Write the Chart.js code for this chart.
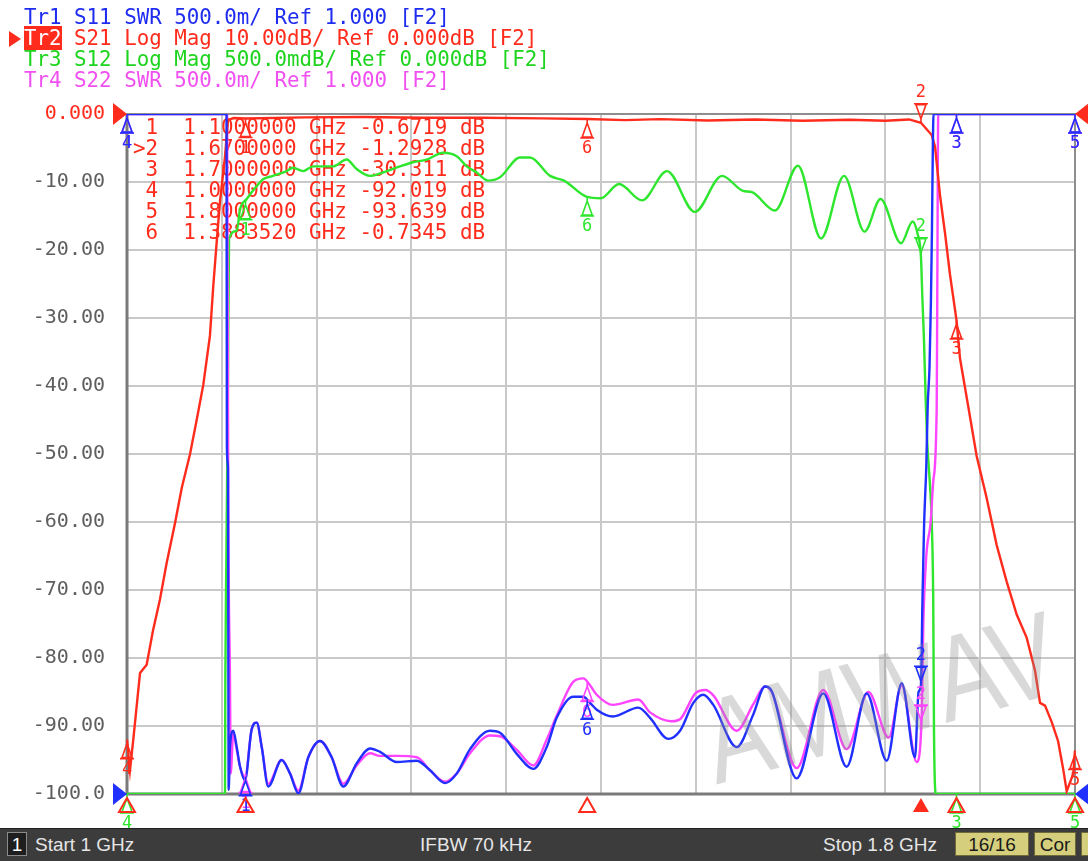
<!DOCTYPE html>
<html>
<head>
<meta charset="utf-8">
<script src="https://cdn.jsdelivr.net/npm/chart.js@4.4.1/dist/chart.umd.min.js"></script>
<style>
  html, body { margin: 0; padding: 0; background: #fff; }
  body { width: 1088px; height: 861px; position: relative; overflow: hidden; }
  #chartBox { position: absolute; left: 0; top: 0; width: 1088px; height: 828px; }
  .hdr { position: absolute; left: 24px; font-family: "DejaVu Sans Mono", monospace; font-size: 20.8px; line-height: 21px; white-space: pre; }
  .tr2 { background: #ff2b1c; color: #fff; }
  #tri { position: absolute; left: 9px; top: 31px; width: 0; height: 0; border-top: 8px solid transparent; border-bottom: 8px solid transparent; border-left: 12px solid #ff2b1c; }
  #status { position: absolute; left: 0; top: 828px; width: 1088px; height: 33px; background: #3c3c3c; border-top: 1px solid #222; box-sizing: border-box;
            font-family: "Liberation Sans", Arial, sans-serif; font-size: 19px; color: #e6e6e6; }
  #status span { position: absolute; top: 5px; line-height: 22px; white-space: nowrap; }
  #status .box { position: absolute; top: 3px; height: 24px; line-height: 24px; text-align: center; box-sizing: border-box; }
  .num { left: 7px; width: 20px; background: #1e1e1e; border: 1px solid #8a8a8a; color: #fff; }
  .khaki { background: #d5cf7d; color: #1a1a1a; border: 1px solid #6e6a3a; }
</style>
</head>
<body>
<div id="chartBox"><canvas id="vnaChart" width="1088" height="828"></canvas></div>

<div class="hdr" style="top:7px;color:#1e2cf0">Tr1 S11 SWR 500.0m/ Ref 1.000 [F2]</div>
<div id="tri"></div>
<div class="hdr" style="top:28px;color:#ff2b1c"><span class="tr2">Tr2</span> S21 Log Mag 10.00dB/ Ref 0.000dB [F2]</div>
<div class="hdr" style="top:49px;color:#1ed41e">Tr3 S12 Log Mag 500.0mdB/ Ref 0.000dB [F2]</div>
<div class="hdr" style="top:70px;color:#f050f0">Tr4 S22 SWR 500.0m/ Ref 1.000 [F2]</div>

<div id="status">
  <div class="box num">1</div>
  <span style="left:35px">Start 1 GHz</span>
  <span style="left:420px">IFBW 70 kHz</span>
  <span style="left:823px">Stop 1.8 GHz</span>
  <div class="box khaki" style="left:955px;width:74px">16/16</div>
  <div class="box khaki" style="left:1034px;width:42px">Cor</div>
  <div class="box khaki" style="left:1081px;width:14px"></div>
</div>

<script>
// grid / ticks
const gridFreqs = [1.00, 1.08, 1.16, 1.24, 1.32, 1.40, 1.48, 1.56, 1.64, 1.72, 1.80];
const dbTicks = [0, -10, -20, -30, -40, -50, -60, -70, -80, -90, -100];

// markers (GHz) and the readings in the marker table (dB, Tr2)
const markerFreqs = [1.1, 1.67, 1.7, 1.0, 1.8, 1.388352];
const markerReadings = [-0.6719, -1.2928, -30.311, -92.019, -93.639, -0.7345];
const activeMarker = 2;

// Tr2 S21 (dB)
const s21Freq = [1.0000, 1.0025, 1.0053, 1.0082, 1.0110, 1.0166, 1.0219, 1.0278, 1.0335, 1.0405, 1.0462, 1.0532,
  1.0588, 1.0644, 1.0700, 1.0728, 1.0757, 1.0785, 1.0827, 1.0852, 1.0900, 1.1000, 1.1500, 1.2000, 1.2500, 1.3000,
  1.3500, 1.3884, 1.4200, 1.4500, 1.4900, 1.5300, 1.5700, 1.6100, 1.6400, 1.6600, 1.6700, 1.6791, 1.6819, 1.6861,
  1.6903, 1.6945, 1.7000, 1.7030, 1.7097, 1.7170, 1.7255, 1.7339, 1.7424, 1.7508, 1.7592, 1.7662, 1.7705, 1.7747,
  1.7803, 1.7857, 1.7899, 1.7930, 1.7986, 1.8000];
const s21Val = [-92.0, -96.5, -92.0, -87.0, -82.2, -81.0, -76.0, -71.4, -66.0, -60.2, -55.0, -50.0,
  -45.0, -39.8, -32.6, -25.3, -18.8, -12.8, -6.3, -0.9, -0.6, -0.67, -0.5, -0.45, -0.55, -0.55,
  -0.65, -0.73, -0.9, -0.75, -0.95, -0.8, -1.0, -0.85, -1.0, -0.8, -1.29, -3.1, -4.8, -12.0,
  -17.5, -23.6, -30.3, -36.0, -42.8, -50.3, -56.5, -63.4, -68.8, -73.6, -77.0, -81.8, -86.6, -87.0,
  -89.4, -92.2, -96.2, -99.6, -97.0, -93.6];

// Tr1 S11 (as drawn on the grid)
const s11Freq = [1.0000, 1.0840, 1.0843, 1.0852, 1.0858, 1.0869, 1.0897, 1.0926, 1.0954, 1.0996, 1.1052, 1.1095,
  1.1137, 1.1192, 1.1305, 1.1376, 1.1446, 1.1530, 1.1629, 1.1727, 1.1825, 1.1938, 1.2051, 1.2135, 1.2276, 1.2445,
  1.2557, 1.2684, 1.2782, 1.2895, 1.3063, 1.3148, 1.3289, 1.3429, 1.3542, 1.3626, 1.3766, 1.3851, 1.3907, 1.3964,
  1.4101, 1.4315, 1.4414, 1.4568, 1.4667, 1.4779, 1.4863, 1.4948, 1.5145, 1.5285, 1.5384, 1.5441, 1.5651, 1.5876,
  1.6073, 1.6242, 1.6411, 1.6538, 1.6650, 1.6680, 1.6700, 1.6712, 1.6726, 1.6745, 1.6757, 1.6772, 1.6784, 1.6793,
  1.6800, 1.6806, 1.8000];
const s11Val = [0, 0, -49, -52, -99.4, -93, -90.7, -93.1, -96, -98, -90.5, -89.5,
  -93.1, -98.9, -95, -97, -99.9, -94.6, -92.2, -94.6, -98.9, -95.5, -93.3, -93.8, -95.3, -95.1,
  -96.5, -98.4, -97, -93.4, -90.7, -91, -94.1, -96.3, -93.1, -88.8, -85.7, -85.7, -86.6, -87.6,
  -88.6, -87.3, -88.8, -91.9, -90.7, -86.6, -85.4, -86.9, -93.1, -88.3, -84.2, -84.9, -97.7, -85.2,
  -96, -85.2, -95.1, -83.7, -94.6, -85, -84, -72.3, -60.7, -51.8, -42.9, -37.4, -27.8, -16.9,
  -5.4, 0, 0];

// Tr4 S22 (as drawn on the grid)
const s22Freq = [1.0000, 1.0845, 1.0855, 1.0869, 1.0875, 1.0897, 1.0926, 1.0954, 1.0996, 1.1052, 1.1095, 1.1137,
  1.1192, 1.1305, 1.1376, 1.1446, 1.1530, 1.1629, 1.1727, 1.1825, 1.1938, 1.2051, 1.2135, 1.2276, 1.2445, 1.2557,
  1.2684, 1.2782, 1.2895, 1.3063, 1.3148, 1.3289, 1.3429, 1.3542, 1.3626, 1.3766, 1.3851, 1.3907, 1.3964, 1.4101,
  1.4315, 1.4414, 1.4596, 1.4667, 1.4796, 1.4880, 1.4948, 1.5145, 1.5285, 1.5384, 1.5441, 1.5651, 1.5876, 1.6073,
  1.6256, 1.6428, 1.6538, 1.6664, 1.6706, 1.6720, 1.6745, 1.6782, 1.6804, 1.6833, 1.6838, 1.6846, 1.8000];
const s22Val = [0, 0, -60, -83, -97, -91, -93.5, -96, -97.5, -90.5, -89.5, -93.1,
  -98.5, -95, -97, -99.5, -94.6, -92.2, -94.6, -98.5, -95.8, -94, -94.4, -94.4, -94.6, -96.5,
  -98.2, -97, -94, -91.4, -91.5, -93.5, -95.8, -92, -88.5, -83.5, -83, -84, -85.4, -86.9,
  -86.1, -88, -89.3, -89, -85.2, -84.7, -85.5, -90.7, -86.8, -84.2, -85, -96.2, -84.7, -93.4,
  -85, -91.7, -84, -95.3, -88.8, -75, -65, -60, -54, -43, -25.8, 0, 0];

// Tr3 S12 (as drawn on the grid)
const s12Freq = [1.0000, 1.0827, 1.0830, 1.0838, 1.0852, 1.0861, 1.0926, 1.0954, 1.1010, 1.1095, 1.1148, 1.1232,
  1.1348, 1.1401, 1.1485, 1.1570, 1.1738, 1.1854, 1.1938, 1.2051, 1.2160, 1.2304, 1.2414, 1.2529, 1.2667, 1.2782,
  1.2867, 1.2951, 1.3046, 1.3148, 1.3316, 1.3401, 1.3570, 1.3688, 1.3882, 1.3997, 1.4152, 1.4346, 1.4557, 1.4792,
  1.5021, 1.5198, 1.5274, 1.5468, 1.5662, 1.5857, 1.6051, 1.6224, 1.6359, 1.6532, 1.6630, 1.6670, 1.6700, 1.6712,
  1.6725, 1.6740, 1.6752, 1.6776, 1.6791, 1.6804, 1.6810, 1.6827, 1.8000];
const s12Val = [-100, -100, -83, -66, -40, -18.3, -17.2, -14, -12.5, -10.6, -9.6, -9.1,
  -8.4, -7.9, -8.4, -7.7, -7.7, -6.7, -8.1, -9.1, -8.6, -7.7, -7.1, -6.7, -5.7, -6.2,
  -7.7, -8.6, -9.8, -9.3, -6.4, -6.4, -9.1, -9.8, -12.2, -12.4, -10.3, -12.7, -8.4, -14.4,
  -9.1, -11.3, -11.5, -14.2, -7.6, -18.3, -9.1, -17.3, -12.5, -19, -15.8, -17.5, -21, -27,
  -33, -42, -48, -54.5, -60, -72.3, -90.7, -100, -100];

const RED = '#ff2b1c';
const BLUE = '#2030ff';
const GREEN = '#2ee62e';
const MAGENTA = '#ff44ff';

function toPoints(fs, vs) {
    return fs.map((f, i) => ({ x: f, y: vs[i] }));
}

function valueAt(fs, vs, f) {
    for (let i = 1; i < fs.length; i++) {
        if (f <= fs[i]) {
            const t = (f - fs[i - 1]) / ((fs[i] - fs[i - 1]) || 1);
            return vs[i - 1] + t * (vs[i] - vs[i - 1]);
        }
    }
    return vs[vs.length - 1];
}

function fmtDb(v) {
    return Math.abs(v) < 10 ? v.toFixed(4) : v.toFixed(3);
}

// frame + marker table, under the traces
const underlayPlugin = {
    id: 'underlay',
    beforeDatasetsDraw(chart) {
        const { ctx, chartArea: a } = chart;
        ctx.save();
        ctx.strokeStyle = '#8e8e8e';
        ctx.lineWidth = 2;
        ctx.strokeRect(a.left, a.top, a.right - a.left, a.bottom - a.top);
        ctx.strokeStyle = '#7a7a7a';
        ctx.lineWidth = 3;
        ctx.beginPath();
        ctx.moveTo(a.left, a.top);
        ctx.lineTo(a.left, a.bottom);
        ctx.lineTo(a.right, a.bottom);
        ctx.stroke();

        ctx.font = '20.9px "DejaVu Sans Mono"';
        ctx.fillStyle = RED;
        ctx.textAlign = 'left';
        ctx.textBaseline = 'middle';
        markerFreqs.forEach((f, i) => {
            const n = i + 1;
            const row = (n === activeMarker ? '>' : ' ') + n + '  ' + f.toFixed(7) + ' GHz ' + fmtDb(markerReadings[i]) + ' dB';
            ctx.fillText(row, a.left + 6, a.top + 15 + i * 21);
        });
        ctx.restore();
    }
};

// VNA style marker: short stem, narrow triangle, base bar and number
function drawMarker(ctx, x, y, num, color, active) {
    const s = active ? -1 : 1;
    ctx.strokeStyle = color;
    ctx.fillStyle = color;
    ctx.lineWidth = 1.6;
    ctx.beginPath();
    ctx.moveTo(x, y);
    ctx.lineTo(x, y + s * 4);
    ctx.lineTo(x - 5, y + s * 18);
    ctx.lineTo(x + 5, y + s * 18);
    ctx.lineTo(x, y + s * 4);
    ctx.moveTo(x - 7, y + s * 19);
    ctx.lineTo(x + 7, y + s * 19);
    ctx.stroke();
    ctx.font = '17px "DejaVu Sans Mono"';
    ctx.textAlign = 'center';
    ctx.textBaseline = 'middle';
    ctx.fillText(String(num), x, y + s * 30);
}

// watermark, trace markers, reference arrows, stimulus markers
const overlayPlugin = {
    id: 'overlay',
    afterDatasetsDraw(chart) {
        const { ctx, chartArea: a, scales } = chart;
        const xs = scales.x, ys = scales.y;
        ctx.save();

        // watermark
        ctx.save();
        ctx.translate(a.left + (a.right - a.left) * 0.797, a.top + (a.bottom - a.top) * 0.87);
        ctx.rotate(-15 * Math.PI / 180);
        ctx.font = '120px "Liberation Sans"';
        ctx.fillStyle = 'rgba(140,140,140,0.33)';
        ctx.textAlign = 'center';
        ctx.textBaseline = 'middle';
        ctx.fillText('AMWAV', 0, 0, 362);
        ctx.restore();

        // markers on every trace (drawn bottom trace first)
        const traces = [
            [s12Freq, s12Val, GREEN],
            [s22Freq, s22Val, MAGENTA],
            [s21Freq, s21Val, RED],
            [s11Freq, s11Val, BLUE]
        ];
        traces.forEach(([fs, vs, color]) => {
            markerFreqs.forEach((f, i) => {
                const x = xs.getPixelForValue(f);
                const y = ys.getPixelForValue(valueAt(fs, vs, f));
                drawMarker(ctx, x, y, i + 1, color, i + 1 === activeMarker);
            });
        });

        // stimulus markers under the grid
        markerFreqs.forEach((f, i) => {
            const x = xs.getPixelForValue(f);
            ctx.beginPath();
            ctx.moveTo(x, a.bottom + 4);
            ctx.lineTo(x - 8, a.bottom + 18);
            ctx.lineTo(x + 8, a.bottom + 18);
            ctx.closePath();
            ctx.lineWidth = 2;
            ctx.strokeStyle = RED;
            ctx.fillStyle = RED;
            if (i + 1 === activeMarker) ctx.fill(); else ctx.stroke();
        });

        // reference level arrows
        function arrow(x, y, dir, color) {
            ctx.beginPath();
            ctx.moveTo(x, y);
            ctx.lineTo(x - dir * 14, y - 11);
            ctx.lineTo(x - dir * 14, y + 11);
            ctx.closePath();
            ctx.fillStyle = color;
            ctx.fill();
        }
        arrow(a.left, ys.getPixelForValue(0), 1, RED);
        arrow(a.left, ys.getPixelForValue(-100), 1, BLUE);
        arrow(a.right, ys.getPixelForValue(0), -1, RED);
        arrow(a.right, ys.getPixelForValue(-100), -1, BLUE);

        ctx.restore();
    }
};

const ctx = document.getElementById('vnaChart').getContext('2d');
const chart = new Chart(ctx, {
    type: 'line',
    data: {
        datasets: [
            { label: 'S11', data: toPoints(s11Freq, s11Val), borderColor: BLUE, order: 0, cubicInterpolationMode: 'monotone' },
            { label: 'S21', data: toPoints(s21Freq, s21Val), borderColor: RED, order: 1 },
            { label: 'S22', data: toPoints(s22Freq, s22Val), borderColor: MAGENTA, order: 2, cubicInterpolationMode: 'monotone' },
            { label: 'S12', data: toPoints(s12Freq, s12Val), borderColor: GREEN, order: 3, cubicInterpolationMode: 'monotone' }
        ]
    },
    options: {
        responsive: false,
        animation: false,
        devicePixelRatio: 1,
        events: [],
        layout: { padding: { top: 114, right: 13, bottom: 24, left: 0 } },
        elements: {
            line: { borderWidth: 2.4, tension: 0, fill: false },
            point: { radius: 0 }
        },
        plugins: {
            legend: { display: false },
            title: { display: false },
            tooltip: { enabled: false }
        },
        scales: {
            x: {
                type: 'linear',
                min: 1.0,
                max: 1.8,
                afterBuildTicks: s => { s.ticks = gridFreqs.map(v => ({ value: v })); },
                afterFit: s => { s.height = 0; },
                ticks: { display: false },
                grid: { color: '#c9c9c9', lineWidth: 2, drawTicks: false },
                border: { display: false }
            },
            y: {
                min: -100,
                max: 0,
                afterBuildTicks: s => { s.ticks = dbTicks.map(v => ({ value: v })); },
                afterFit: s => { s.width = 127; },
                ticks: {
                    padding: 22,
                    font: { family: 'DejaVu Sans Mono', size: 20 },
                    color: c => (c.tick && c.tick.value === 0) ? RED : '#5e5e5e',
                    callback: v => v === 0 ? '0.000' : (v === -100 ? '-100.0' : v.toFixed(2))
                },
                grid: { color: '#c9c9c9', lineWidth: 2, drawTicks: false },
                border: { display: false }
            }
        }
    },
    plugins: [underlayPlugin, overlayPlugin]
});
</script>
</body>
</html>
